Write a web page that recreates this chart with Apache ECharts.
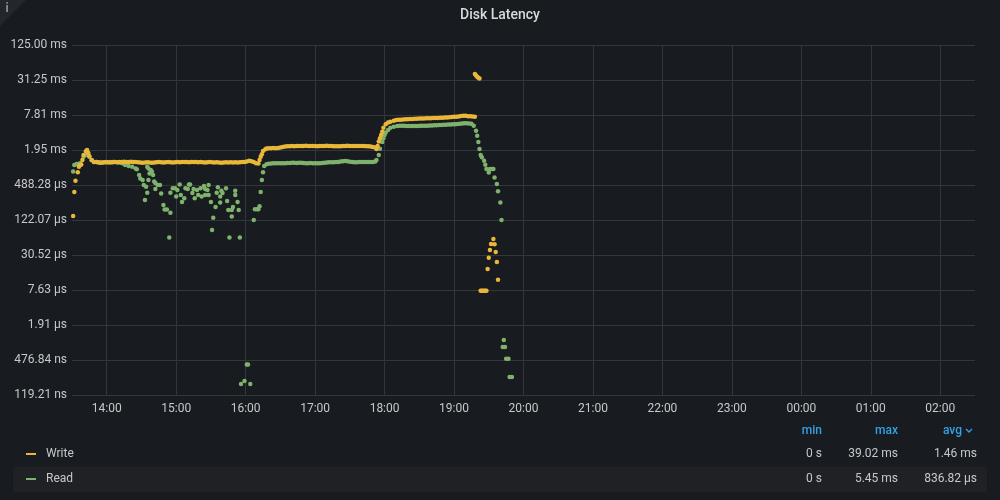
<!DOCTYPE html>
<html><head><meta charset="utf-8">
<script src="https://cdn.jsdelivr.net/npm/echarts@6/dist/echarts.min.js"></script>
<style>html,body{margin:0;padding:0;background:#181b1f;} #c{width:1000px;height:500px;}</style>
</head><body><div id="c"></div>
<script>
// ---- Data (latency values in milliseconds) ----
const chartTitle = "Disk Latency";
const seriesNames = ["Write", "Read"];
const seriesColors = ["#EAB839", "#7EB26D"];
const timeRange = ["13:30", "02:30"];
const yTickLabels = ["119.21 ns","476.84 ns","1.91 µs","7.63 µs","30.52 µs","122.07 µs","488.28 µs","1.95 ms","7.81 ms","31.25 ms","125.00 ms"];
const legendHeaders = ["min", "max", "avg"];
const legendMin = ["0 s", "0 s"];
const legendMax = ["39.02 ms", "5.45 ms"];
const legendAvg = ["1.46 ms", "836.82 µs"];

// Write series
const writeRamp = [["13:31",0.143],["13:32",0.37],["13:33",0.58],["13:35",0.81],["13:36",1.01],["13:37",1.08],["13:38",1.10],["13:39",1.31],["13:40",1.60],["13:42",1.85],["13:43",1.95],["13:44",1.75],["13:45",1.52],["13:47",1.31],["13:49",1.22]];
const writePlateau1Start = "13:51"; // every 2 minutes
const writePlateau1 = [1.21,1.19,1.18,1.19,1.20,1.20,1.19,1.20,1.21,1.20,1.22,1.21,1.23,1.22,1.21,1.23,1.22,1.21,1.20,1.19,1.18,1.19,1.20,1.19,1.18,1.19,1.20,1.21,1.20,1.19,1.20,1.21,1.20,1.19,1.20,1.21,1.20,1.21,1.22,1.21,1.20,1.21,1.22,1.21,1.20,1.21,1.20,1.19,1.20,1.21,1.20,1.19,1.20,1.19,1.18,1.19,1.20,1.19,1.20,1.19,1.20,1.19,1.20,1.21,1.22,1.24,1.27,1.25,1.21,1.16,1.14];
const writeRise2 = [["16:12",1.31],["16:13",1.50],["16:14",1.65],["16:15",1.88],["16:17",2.02],["16:18",2.07]];
const writePlateau2Start = "16:20"; // every 2 minutes
const writePlateau2 = [2.09,2.10,2.11,2.10,2.12,2.16,2.21,2.24,2.26,2.27,2.28,2.27,2.28,2.29,2.28,2.29,2.30,2.29,2.28,2.29,2.28,2.27,2.28,2.29,2.29,2.30,2.29,2.28,2.27,2.26,2.26,2.27,2.28,2.29,2.30,2.29,2.28,2.29,2.29,2.28,2.29,2.28,2.27,2.26,2.24,2.20,2.15];
const writeRise3 = [["17:53",2.03],["17:54",2.29],["17:55",2.73],["17:56",3.10],["17:57",3.54],["17:58",4.03],["17:59",4.72],["18:01",5.40],["18:03",5.80],["18:05",6.00],["18:08",6.25]];
const writePlateau3Start = "18:10"; // every 2 minutes
const writePlateau3 = [6.40,6.45,6.50,6.55,6.58,6.62,6.67,6.70,6.72,6.75,6.78,6.80,6.82,6.85,6.87,6.90,6.92,6.95,6.97,7.00,7.02,7.05,7.10,7.15,7.25,7.30,7.28,7.35,7.50,7.60,7.55,7.45,7.40,7.35,7.30];
const writeHigh = [["19:18",39.6],["19:19",37.5],["19:20",35.5],["19:21",34.0],["19:22",33.2]];
const writeLow = [["19:23",0.0074],["19:24",0.0074],["19:25",0.0074],["19:26",0.0074],["19:27",0.0074],["19:28",0.0074],["19:29",0.0175],["19:30",0.0274],["19:31",0.0372],["19:32",0.0472],["19:34",0.0575],["19:35",0.0467],["19:36",0.0344],["19:37",0.0231],["19:38",0.0115]];

// Read series
const readRamp = [["13:31",0.83],["13:32",1.08],["13:34",1.12],["13:36",1.12],["13:37",1.15],["13:40",1.50],["13:42",1.60],["13:43",1.80],["13:44",1.70],["13:45",1.50],["13:47",1.30],["13:49",1.22]];
const readPlateau1Start = "13:51"; // every 2 minutes
const readPlateau1 = [1.21,1.20,1.19,1.20,1.21,1.20,1.21,1.22,1.21,1.20,1.19,1.17,1.12];
const readScatter = [["14:16",1.08],["14:19",1.04],["14:22",1.01],["14:25",0.94],["14:26",0.91],["14:28",0.725],["14:29",0.63],["14:31",0.595],["14:32",0.488],["14:33",0.27],["14:34",0.457],["14:35",0.36],["14:35",1.01],["14:36",0.94],["14:37",0.77],["14:36",0.595],["14:38",0.885],["14:39",0.83],["14:40",0.725],["14:41",0.56],["14:42",0.53],["14:42",0.415],["14:44",0.488],["14:46",0.488],["14:47",0.35],["14:49",0.221],["14:50",0.185],["14:52",0.185],["14:55",0.163],["14:54",0.061],["14:57",0.43],["14:59",0.43],["14:55",0.36],["15:03",0.50],["15:01",0.40],["15:00",0.31],["15:04",0.33],["15:07",0.29],["15:05",0.25],["15:08",0.43],["15:11",0.50],["15:10",0.415],["15:12",0.50],["15:14",0.355],["15:15",0.415],["15:16",0.29],["15:18",0.40],["15:19",0.33],["15:21",0.43],["15:22",0.31],["15:24",0.47],["15:25",0.415],["15:28",0.488],["15:27",0.40],["15:25",0.33],["15:28",0.33],["15:30",0.25],["15:34",0.205],["15:32",0.134],["15:31",0.082],["15:36",0.447],["15:35",0.36],["15:38",0.31],["15:39",0.39],["15:40",0.355],["15:43",0.43],["15:38",0.245],["15:44",0.26],["15:46",0.061],["15:51",0.39],["15:51",0.33],["15:48",0.181],["15:45",0.181],["15:49",0.205],["15:53",0.25],["15:54",0.181],["15:48",0.14],["15:55",0.061]];
const readLow1 = [["15:56",0.000185],["15:59",0.000208],["16:01",0.00040],["16:02",0.00040],["16:04",0.000185]];
const readRise2 = [["16:07",0.122],["16:08",0.186],["16:10",0.186],["16:11",0.186],["16:12",0.21],["16:13",0.37],["16:14",0.595],["16:15",0.81],["16:16",1.04],["16:18",1.11]];
const readPlateau2Start = "16:20"; // every 2 minutes
const readPlateau2 = [1.13,1.14,1.15,1.15,1.16,1.16,1.15,1.16,1.17,1.17,1.18,1.18,1.17,1.18,1.18,1.17,1.16,1.16,1.17,1.16,1.15,1.15,1.16,1.17,1.18,1.19,1.20,1.20,1.20,1.21,1.22,1.24,1.25,1.26,1.25,1.23,1.21,1.20,1.20,1.21,1.22,1.21,1.21,1.21,1.22,1.22,1.24];
const readRise3 = [["17:53",1.31],["17:55",1.60],["17:56",2.06],["17:58",2.68],["17:59",3.10],["18:00",3.54],["18:01",3.90],["18:03",4.31],["18:05",4.70],["18:08",4.92],["18:11",5.05]];
const readPlateau3Start = "18:13"; // every 2 minutes
const readPlateau3 = [5.10,5.10,5.08,5.07,5.06,5.05,5.05,5.06,5.07,5.08,5.09,5.10,5.11,5.13,5.15,5.18,5.22,5.25,5.27,5.30,5.33,5.36,5.38,5.40,5.42,5.48,5.55,5.60,5.62,5.62,5.60,5.50,5.10];
const readFall = [["19:19",4.20],["19:20",3.43],["19:21",2.68],["19:22",2.03],["19:23",1.60],["19:24",1.47],["19:26",1.28],["19:27",1.09],["19:28",0.92],["19:30",0.80],["19:31",0.92],["19:32",0.92],["19:33",0.92],["19:34",0.92],["19:35",0.66],["19:37",0.51],["19:38",0.38],["19:40",0.245],["19:41",0.122]];
const readLow2 = [["19:42",0.00080],["19:43",0.00105],["19:44",0.00080],["19:45",0.00050],["19:47",0.00050],["19:48",0.000244],["19:50",0.000244]];

// ---- Helpers ----
function toTime(s) {
  const p = s.split(":").map(Number);
  const day = p[0] < 12 ? 2 : 1;
  return new Date(2021, 0, day, p[0], p[1]).getTime();
}
function regular(start, stepMin, values) {
  const t0 = toTime(start);
  return values.map((v, i) => [t0 + i * stepMin * 60000, v]);
}
function pairs(list) { return list.map(d => [toTime(d[0]), d[1]]); }
const BASE_MS = 125 / Math.pow(4, 10);        // 119.21 ns, bottom of the log4 axis
function logY(ms) { return Math.log(ms / BASE_MS) / Math.log(4); }
function toPoints(list) { return list.map(d => [d[0], logY(d[1])]); }

const writeData = toPoints([].concat(
  pairs(writeRamp), regular(writePlateau1Start, 2, writePlateau1), pairs(writeRise2),
  regular(writePlateau2Start, 2, writePlateau2), pairs(writeRise3),
  regular(writePlateau3Start, 2, writePlateau3), pairs(writeHigh), pairs(writeLow)));
const readData = toPoints([].concat(
  pairs(readRamp), regular(readPlateau1Start, 2, readPlateau1), pairs(readScatter), pairs(readLow1),
  pairs(readRise2), regular(readPlateau2Start, 2, readPlateau2), pairs(readRise3),
  regular(readPlateau3Start, 2, readPlateau3), pairs(readFall), pairs(readLow2)));

const FONT = "Roboto, 'Noto Sans', sans-serif";
const textColor = "#c7c8cc";
const gridColor = "#34363b";
const pad = n => (n < 10 ? "0" : "") + n;
// boundary ticks (13:30 and 02:30) get a transparent line; 15 ticks in total
const xSplitColors = ["rgba(0,0,0,0)"].concat(new Array(13).fill(gridColor));

// ---- Legend table as graphics ----
const graphics = [
  { type: "polygon", shape: { points: [[0,0],[26,0],[0,26]] }, style: { fill: "#23262b" } },
  { type: "text", x: 7, y: 9, style: { text: "i", fill: "#8e9095", font: "bold 12px " + FONT, align: "center", verticalAlign: "middle" } },
  { type: "rect", shape: { x: 13, y: 467, width: 974, height: 25 }, style: { fill: "#1f2125" } }
];
const colRight = [822, 898, 962];
legendHeaders.forEach((h, i) => {
  graphics.push({ type: "text", x: colRight[i], y: 431, style: { text: h, fill: "#33a2e5", font: "500 12px " + FONT, align: "right", verticalAlign: "middle" } });
});
graphics.push({ type: "polyline", shape: { points: [[966,429],[969,432],[972,429]] }, style: { stroke: "#33a2e5", lineWidth: 1.3, fill: null } });
const rowY = [454, 479];
const valRight = [822, 898, 977];
seriesNames.forEach((name, r) => {
  graphics.push({ type: "rect", shape: { x: 26, y: rowY[r] - 1, width: 10, height: 2 }, style: { fill: seriesColors[r] } });
  graphics.push({ type: "text", x: 46, y: rowY[r], style: { text: name, fill: textColor, font: "12px " + FONT, verticalAlign: "middle" } });
  [legendMin[r], legendMax[r], legendAvg[r]].forEach((t, i) => {
    graphics.push({ type: "text", x: valRight[i], y: rowY[r], style: { text: t, fill: textColor, font: "12px " + FONT, align: "right", verticalAlign: "middle" } });
  });
});

const chart = echarts.init(document.getElementById("c"), null, { renderer: "canvas" });
chart.setOption({
  backgroundColor: "#181b1f",
  animation: false,
  title: { text: chartTitle, left: "center", top: 3, textStyle: { color: "#d8d9da", fontSize: 14, fontWeight: 500, fontFamily: FONT } },
  grid: { left: 72, right: 25, top: 45, bottom: 105 },
  xAxis: {
    type: "time",
    min: toTime(timeRange[0]), max: toTime(timeRange[1]),
    minInterval: 3600000, maxInterval: 3600000, splitNumber: 13,
    axisLine: { show: false }, axisTick: { show: false },
    splitLine: { show: true, lineStyle: { color: xSplitColors, width: 1 } },
    axisLabel: {
      color: textColor, fontSize: 12, fontFamily: FONT, margin: 8,
      showMinLabel: false, showMaxLabel: false,
      formatter: v => { const d = new Date(v); return pad(d.getHours()) + ":" + pad(d.getMinutes()); }
    }
  },
  yAxis: {
    type: "value", min: 0, max: 10, interval: 1,
    axisLine: { show: false }, axisTick: { show: false },
    splitLine: { show: true, lineStyle: { color: gridColor, width: 1 } },
    axisLabel: { color: textColor, fontSize: 12, fontFamily: FONT, margin: 5, formatter: v => yTickLabels[Math.round(v)] }
  },
  series: [
    { name: seriesNames[1], type: "scatter", data: readData, symbolSize: 4.5, itemStyle: { color: seriesColors[1], opacity: 1 }, z: 2 },
    { name: seriesNames[0], type: "scatter", data: writeData, symbolSize: 4.5, itemStyle: { color: seriesColors[0], opacity: 1 }, z: 3 }
  ],
  graphic: graphics
});
</script></body></html>
